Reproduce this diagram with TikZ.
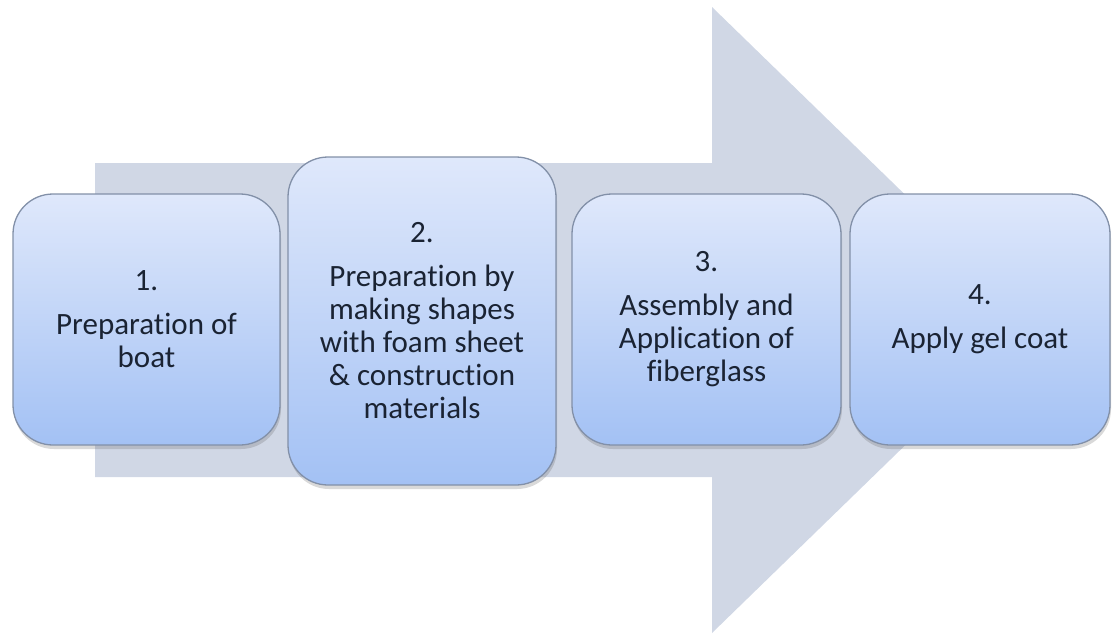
\documentclass[tikz,border=0pt]{standalone}
\usepackage{fontspec}
\setmainfont{Carlito}[RawFeature={-liga}]
\usetikzlibrary{shadows}
\definecolor{arrowgray}{HTML}{D0D7E5}
\definecolor{boxtop}{HTML}{DFE8FB}
\definecolor{boxbottom}{HTML}{A3C1F4}
\definecolor{boxline}{HTML}{8290A8}
\definecolor{boxtext}{HTML}{1A2333}
\begin{document}
\begin{tikzpicture}[x=1pt,y=-1pt,
  stagebox/.style={rectangle, rounded corners=40pt, draw=boxline, line width=1.3pt,
    top color=boxtop, bottom color=boxbottom, inner sep=0pt, align=center,
    text=boxtext, font=\fontsize{31}{33}\selectfont,
    drop shadow={shadow xshift=1pt, shadow yshift=-4pt, opacity=0.25, fill=black!60}}]
\useasboundingbox (0,0) rectangle (1112,635);
% broad process arrow behind the stages
\fill[arrowgray] (95,163) -- (712,163) -- (712,7) -- (1034,320)
  -- (712,633) -- (712,477) -- (95,477) -- cycle;
% stages
\node[stagebox, minimum width=267pt, minimum height=251pt] (s1) at (146.5,319.5)
  {1.\\[11pt]Preparation of\\boat};
\node[stagebox, minimum width=268pt, minimum height=328pt] (s2) at (422,321)
  {2.\\[11pt]Preparation by\\making shapes\\with foam sheet\\\& construction\\materials};
\node[stagebox, minimum width=269pt, minimum height=251pt] (s3) at (706.5,319.5)
  {3.\\[11pt]Assembly and\\Application of\\fiberglass};
\node[stagebox, minimum width=260pt, minimum height=251pt] (s4) at (980,319.5)
  {4.\\[11pt]Apply gel coat};
\end{tikzpicture}
\end{document}
